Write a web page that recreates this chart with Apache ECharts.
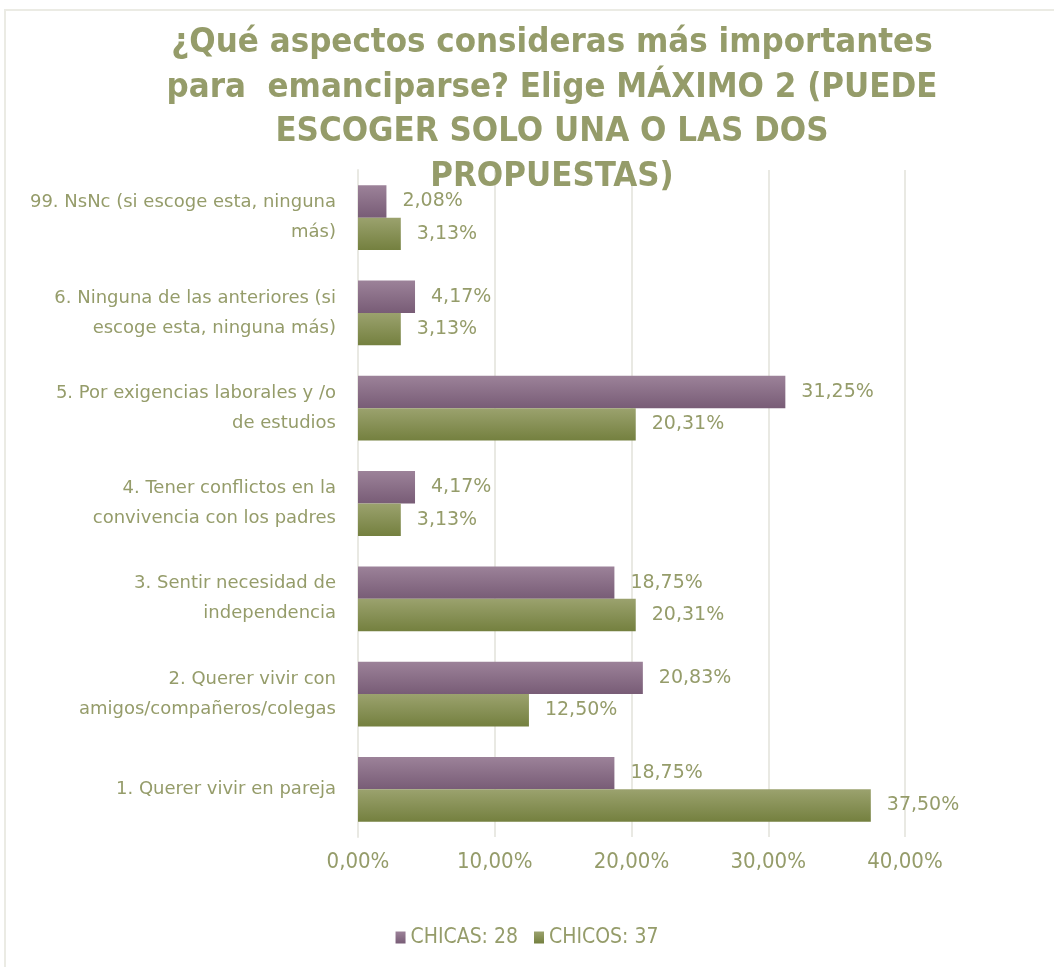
<!DOCTYPE html>
<html>
<head>
<meta charset="utf-8">
<script src="https://cdn.jsdelivr.net/npm/echarts@6/dist/echarts.min.js"></script>
<style>
  html, body { margin: 0; padding: 0; background: #fff; }
  #chart { width: 1054px; height: 967px; }
</style>
</head>
<body>
<div id="chart"></div>
<script>
// categories from bottom to top
const categories = [
  "1. Querer vivir en pareja",
  "2. Querer vivir con\namigos/compañeros/colegas",
  "3. Sentir necesidad de\nindependencia",
  "4. Tener conflictos en la\nconvivencia con los padres",
  "5. Por exigencias laborales y /o\nde estudios",
  "6. Ninguna de las anteriores (si\nescoge esta, ninguna más)",
  "99. NsNc (si escoge esta, ninguna\nmás)"
];
const chicas = [18.75, 20.83, 18.75, 4.17, 31.25, 4.17, 2.08];
const chicos = [37.50, 12.50, 20.31, 3.13, 20.31, 3.13, 3.13];
const seriesNames = ["CHICAS: 28", "CHICOS: 37"];
const axisTicks = [0, 10, 20, 30, 40];

const textColor = "#959c6a";
const bodyFont = "'DejaVu Sans', sans-serif";
const narrowFont = "'DejaVu Sans Condensed', sans-serif";

function pct(v) {
  return v.toFixed(2).replace(".", ",") + "%";
}

const chart = echarts.init(document.getElementById("chart"));

chart.setOption({
  animation: false,
  backgroundColor: "#fff",
  // frame of the chart area (top and left edges only are visible)
  graphic: [
    {
      type: "line",
      shape: { x1: 4, y1: 10, x2: 1054, y2: 10 },
      style: { stroke: "#ebebe4", lineWidth: 2 },
      silent: true
    },
    {
      type: "line",
      shape: { x1: 5, y1: 9, x2: 5, y2: 967 },
      style: { stroke: "#ebebe4", lineWidth: 2 },
      silent: true
    }
  ],
  title: {
    text: "¿Qué aspectos consideras más importantes\npara  emanciparse? Elige MÁXIMO 2 (PUEDE\nESCOGER SOLO UNA O LAS DOS\nPROPUESTAS)",
    left: 547,
    top: 16,
    textAlign: "center",
    textStyle: {
      color: "#959c6a",
      fontFamily: narrowFont,
      fontWeight: "bold",
      fontSize: 34.5,
      lineHeight: 44.5
    }
  },
  legend: {
    data: seriesNames,
    bottom: 14,
    left: "center",
    itemWidth: 10,
    itemHeight: 12,
    itemGap: 16,
    icon: "rect",
    textStyle: {
      color: textColor,
      fontFamily: narrowFont,
      fontSize: 21
    }
  },
  grid: {
    left: 358,
    right: 149,
    top: 170,
    bottom: 130
  },
  xAxis: {
    type: "value",
    min: axisTicks[0],
    max: axisTicks[axisTicks.length - 1],
    interval: 10,
    axisLine: { show: false },
    axisTick: { show: false },
    splitLine: { lineStyle: { color: "#e9e9e3", width: 2 } },
    axisLabel: {
      color: textColor,
      fontFamily: narrowFont,
      fontSize: 22,
      margin: 14,
      formatter: function (v) { return pct(v); }
    }
  },
  yAxis: {
    type: "category",
    data: categories,
    axisLine: { lineStyle: { color: "#e9e9e3", width: 2 } },
    axisTick: { show: false },
    axisLabel: {
      color: textColor,
      fontFamily: bodyFont,
      fontSize: 18,
      lineHeight: 30,
      margin: 22,
      align: "right"
    }
  },
  series: [
    {
      name: seriesNames[0],
      type: "bar",
      data: chicas,
      barGap: "0%",
      barCategoryGap: "32%",
      itemStyle: {
        color: new echarts.graphic.LinearGradient(0, 0, 0, 1, [
          { offset: 0, color: "#9c8299" },
          { offset: 1, color: "#785c76" }
        ])
      },
      label: {
        show: true,
        position: "right",
        distance: 16,
        color: textColor,
        fontFamily: bodyFont,
        fontSize: 19,
        formatter: function (p) { return pct(p.value); }
      }
    },
    {
      name: seriesNames[1],
      type: "bar",
      data: chicos,
      barGap: "0%",
      barCategoryGap: "32%",
      itemStyle: {
        color: new echarts.graphic.LinearGradient(0, 0, 0, 1, [
          { offset: 0, color: "#9ba26e" },
          { offset: 1, color: "#74803f" }
        ])
      },
      label: {
        show: true,
        position: "right",
        distance: 16,
        color: textColor,
        fontFamily: bodyFont,
        fontSize: 19,
        formatter: function (p) { return pct(p.value); }
      }
    }
  ]
});
</script>
</body>
</html>
